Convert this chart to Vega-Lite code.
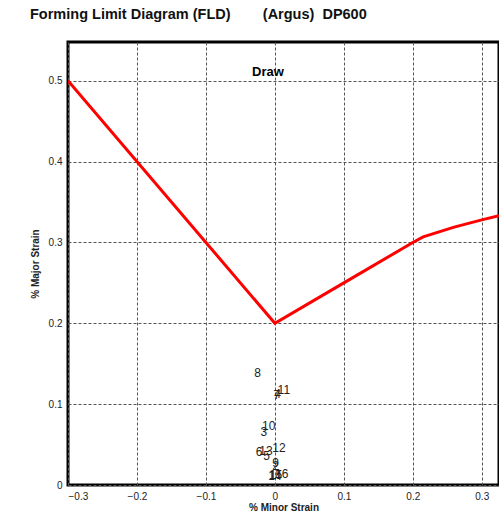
{
  "$schema": "https://vega.github.io/schema/vega-lite/v6.json",
  "autosize": "none",
  "padding": {"left": 68, "top": 42, "right": 0, "bottom": 35},
  "width": 431,
  "height": 443,
  "background": "white",
  "config": {
    "font": "Liberation Sans",
    "view": {"stroke": "black", "strokeWidth": 3},
    "axis": {
      "grid": true, "gridColor": "#555555", "gridDash": [3, 2], "gridWidth": 1, "gridOpacity": 1,
      "domain": false, "ticks": false, "format": "~g",
      "labelFont": "Liberation Sans", "labelFontSize": 10, "labelColor": "#222222",
      "titleFont": "Liberation Sans", "titleFontSize": 10, "titleFontWeight": "bold", "titleColor": "#222222"
    }
  },
  "title": {
    "text": "Forming Limit Diagram (FLD)\u00a0\u00a0\u00a0\u00a0\u00a0\u00a0\u00a0\u00a0(Argus)\u00a0\u00a0DP600",
    "anchor": "start", "frame": "group", "dx": -38, "offset": 20,
    "font": "Liberation Sans", "fontSize": 14.5, "fontWeight": "bold", "color": "#111111"
  },
  "datasets": {
    "fld": [
      {"minor": -0.3, "major": 0.5},
      {"minor": 0.0, "major": 0.2},
      {"minor": 0.1, "major": 0.25},
      {"minor": 0.2, "major": 0.3},
      {"minor": 0.215, "major": 0.307},
      {"minor": 0.26, "major": 0.319},
      {"minor": 0.3, "major": 0.328},
      {"minor": 0.325, "major": 0.333}
    ],
    "pts": [
      {"id": "8", "minor": -0.025, "major": 0.139},
      {"id": "11", "minor": 0.013, "major": 0.118},
      {"id": "7", "minor": 0.003, "major": 0.111},
      {"id": "4", "minor": 0.004, "major": 0.112},
      {"id": "10", "minor": -0.009, "major": 0.073},
      {"id": "3", "minor": -0.016, "major": 0.066},
      {"id": "12", "minor": 0.006, "major": 0.046},
      {"id": "6", "minor": -0.023, "major": 0.041},
      {"id": "13", "minor": -0.013, "major": 0.042},
      {"id": "5", "minor": -0.012, "major": 0.036},
      {"id": "9", "minor": 0.001, "major": 0.027},
      {"id": "2", "minor": 0.001, "major": 0.024},
      {"id": "1", "minor": -0.003, "major": 0.012},
      {"id": "15", "minor": 0.001, "major": 0.012},
      {"id": "14", "minor": 0.0, "major": 0.011},
      {"id": "16", "minor": 0.01, "major": 0.014}
    ],
    "zone": [
      {"label": "Draw", "minor": -0.01, "major": 0.511}
    ]
  },
  "layer": [
    {
      "data": {"name": "fld"},
      "mark": {"type": "line", "color": "#ff0000", "strokeWidth": 3, "clip": true},
      "encoding": {
        "x": {"field": "minor", "type": "quantitative", "scale": {"domain": [-0.3, 0.325], "nice": false, "zero": false},
              "axis": {"title": "% Minor Strain", "values": [-0.3, -0.2, -0.1, 0, 0.1, 0.2, 0.3], "labelPadding": 6, "titlePadding": 1}},
        "y": {"field": "major", "type": "quantitative", "scale": {"domain": [0, 0.548], "nice": false},
              "axis": {"title": "% Major Strain", "values": [0, 0.1, 0.2, 0.3, 0.4, 0.5], "labelPadding": 6, "titlePadding": 8}}
      }
    },
    {
      "data": {"name": "pts"},
      "mark": {"type": "text", "fontSize": 12, "font": "Liberation Sans", "fill": "#222222", "color": "#222222", "baseline": "middle", "align": "center"},
      "encoding": {
        "x": {"field": "minor", "type": "quantitative"},
        "y": {"field": "major", "type": "quantitative"},
        "text": {"field": "id", "type": "nominal"}
      }
    },
    {
      "data": {"name": "zone"},
      "mark": {"type": "text", "fontSize": 13, "fontWeight": "bold", "font": "Liberation Sans", "fill": "#000000", "color": "#000000", "baseline": "middle", "align": "center"},
      "encoding": {
        "x": {"field": "minor", "type": "quantitative"},
        "y": {"field": "major", "type": "quantitative"},
        "text": {"field": "label", "type": "nominal"}
      }
    }
  ]
}
